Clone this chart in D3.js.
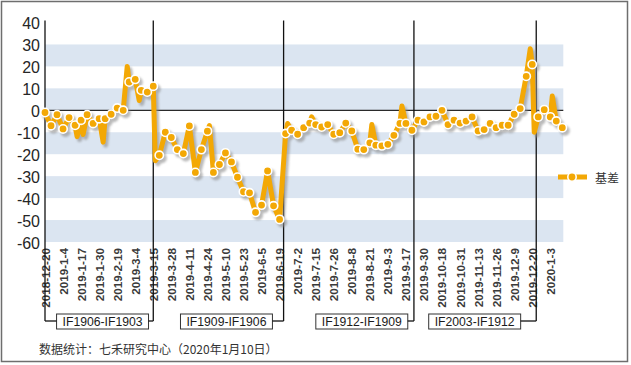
<!DOCTYPE html>
<html><head><meta charset="utf-8">
<script src="https://cdn.jsdelivr.net/npm/d3@7/dist/d3.min.js"></script>
<style>
html,body{margin:0;padding:0;background:#fff;}
svg{display:block;font-family:"Liberation Sans",Arial,sans-serif;}
</style></head>
<body><svg id="c" width="631" height="365"></svg>
<script>
// ---- data ----
const xLabels = ["2018-12-20","2019-1-4","2019-1-17","2019-1-30","2019-2-19","2019-3-4","2019-3-15",
  "2019-3-28","2019-4-11","2019-4-24","2019-5-10","2019-5-23","2019-6-5","2019-6-19","2019-7-2",
  "2019-7-15","2019-7-26","2019-8-8","2019-8-21","2019-9-3","2019-9-17","2019-9-30","2019-10-18",
  "2019-10-31","2019-11-13","2019-11-26","2019-12-9","2019-12-20","2020-1-3"];
const tickStep = 9;          // trading days between axis labels
const markerStep = 3;        // trading days between plotted (marked) observations
// basis values (every 3rd trading day, with markers)
const basisVals = [-1,-7,-2,-8.5,-3.3,-6.8,-4.5,-2,-6,-3.8,-3.8,-1.8,1,0,12.9,14.1,9.1,8.3,11,
  -20.5,-10,-12.4,-17.9,-19.7,-7.1,-28.3,-17.9,-9.5,-28.3,-24.7,-19.4,-23.5,-30.5,-37.1,-37.6,-46.5,-43.2,-27.6,-43.5,-49.7,
  -10.6,-9.1,-10.9,-7.9,-5.8,-6.5,-7.6,-6.5,-10.9,-10.2,-5.8,-9.4,-17.7,-17.9,-14.8,-15.9,-16.2,-15.5,-11.4,-6,-6,-9.1,
  -4.5,-5.3,-3,-2.7,0,-6.5,-4.5,-5.8,-4.9,-3,-9.4,-8.8,-6,-7.9,-6.8,-6.8,-1.8,0.8,15.5,20.9,-3,0.3,-3,-4.9,-7.9];
// intermediate daily extremes (line only)
const spikeDays = [16,19,29,41,47,55,82,121,133,163,178,242,244,253];
const spikeVals = [-12,-11,-14.5,20,4.5,-23,-7,-6,-3,-6.5,2,28,-10,6.5];
// contract roll days and labels
const rollDays = [0,54,119,184,245];
const contracts = ["IF1906-IF1903","IF1909-IF1906","IF1912-IF1909","IF2003-IF1912"];
const contractCenterDays = [28.7,90.5,158,214.3];
const yTicks = [40,30,20,10,0,-10,-20,-30,-40,-50,-60];
const seriesName = "基差";
const footer = "数据统计：七禾研究中心（2020年1月10日）";

// ---- build ----
const orange = "#f3a805";
const svg = d3.select("#c");
const x = d3.scaleLinear().domain([0,258]).range([45,562.3]);
const y = d3.scaleLinear().domain([-60,40]).range([242,22.5]);

const markers = basisVals.map((v,i)=>({d:i*markerStep,v,m:true}));
const spikes = spikeDays.map((d,i)=>({d,v:spikeVals[i],m:false}));
const pts = markers.concat(spikes).sort((a,b)=>a.d-b.d);

// frame
svg.append("rect").attr("x",1.5).attr("y",1.5).attr("width",626).attr("height",360)
  .attr("fill","#fff").attr("stroke","#6e6e6e").attr("stroke-width",1.5);

const defs = svg.append("defs");
defs.append("filter").attr("id","sh").attr("x","-10%").attr("y","-10%").attr("width","120%").attr("height","120%")
  .append("feGaussianBlur").attr("stdDeviation",1);

// bands
const bands = [[20,30],[0,10],[-20,-10],[-40,-30],[-60,-50]];
svg.append("g").selectAll("rect").data(bands).join("rect")
  .attr("x",x.range()[0]).attr("width",x.range()[1]-x.range()[0]+1)
  .attr("y",d=>y(d[1])).attr("height",d=>y(d[0])-y(d[1]))
  .attr("fill","#dbe5f1");

// zero line
svg.append("line").attr("x1",x.range()[0]).attr("x2",x.range()[1]+1)
  .attr("y1",y(0)).attr("y2",y(0)).attr("stroke","#2a2a2a").attr("stroke-width",1.2);

// y tick labels
svg.append("g").selectAll("text").data(yTicks).join("text")
  .attr("x",40).attr("y",d=>y(d)+1).attr("text-anchor","end").attr("dominant-baseline","central")
  .attr("font-size",16).attr("fill","#262626").text(d=>d);

// x tick labels
svg.append("g").selectAll("text").data(xLabels).join("text")
  .attr("transform",(d,i)=>`translate(${x(i*tickStep)},248) rotate(-90)`)
  .attr("text-anchor","end").attr("dominant-baseline","central")
  .attr("font-size",11.7).attr("font-weight","bold").attr("fill","#3a3a3a").text(d=>d);

// roll lines and contract boxes
const connY = 321;
svg.append("g").selectAll("line").data(rollDays).join("line")
  .attr("x1",d=>x(d)).attr("x2",d=>x(d)).attr("y1",y(40)-2).attr("y2",connY)
  .attr("stroke","#111").attr("stroke-width",1.3);

const boxG = svg.append("g");
contracts.forEach((c,i)=>{
  const cx = x(contractCenterDays[i]);
  const t = boxG.append("text").attr("x",cx).attr("y",connY+1).attr("text-anchor","middle")
    .attr("dominant-baseline","central").attr("font-size",12.2).attr("fill","#1a1a1a").text(c);
  const w = t.node().getComputedTextLength()+12;
  boxG.insert("rect","text").attr("x",cx-w/2).attr("y",314).attr("width",w).attr("height",15)
    .attr("fill","#fff").attr("stroke","#333").attr("stroke-width",1);
  boxG.append("line").attr("x1",cx+w/2).attr("x2",x(rollDays[i+1])).attr("y1",connY).attr("y2",connY)
    .attr("stroke","#111").attr("stroke-width",1.3);
  if(i===0){
    boxG.append("line").attr("x1",x(rollDays[0])).attr("x2",cx-w/2).attr("y1",connY).attr("y2",connY)
      .attr("stroke","#111").attr("stroke-width",1.3);
  }
});

// series
const line = d3.line().x(d=>x(d.d)).y(d=>y(d.v));
const shadow = svg.append("g").attr("transform","translate(2.5,3)").attr("filter","url(#sh)").attr("opacity",0.6);
shadow.append("path").datum(pts).attr("d",line).attr("fill","none").attr("stroke","#8c8c8c")
  .attr("stroke-width",5).attr("stroke-linejoin","round");
shadow.selectAll("circle").data(markers).join("circle")
  .attr("cx",d=>x(d.d)).attr("cy",d=>y(d.v)).attr("r",5).attr("fill","#8c8c8c");

svg.append("path").datum(pts).attr("d",line).attr("fill","none").attr("stroke",orange)
  .attr("stroke-width",5).attr("stroke-linejoin","round");
svg.append("g").selectAll("circle").data(markers).join("circle")
  .attr("cx",d=>x(d.d)).attr("cy",d=>y(d.v)).attr("r",4.2)
  .attr("fill",orange).attr("stroke","#fff").attr("stroke-width",1.6);

// legend
const lg = svg.append("g");
const ly = 177;
lg.append("line").attr("x1",560).attr("x2",589).attr("y1",ly+2.5).attr("y2",ly+2.5)
  .attr("stroke","#8c8c8c").attr("stroke-width",5).attr("opacity",0.55).attr("filter","url(#sh)");
lg.append("line").attr("x1",558).attr("x2",587).attr("y1",ly).attr("y2",ly)
  .attr("stroke",orange).attr("stroke-width",5);
lg.append("circle").attr("cx",572).attr("cy",ly).attr("r",4.2).attr("fill",orange)
  .attr("stroke","#fff").attr("stroke-width",1.6);
lg.append("text").attr("x",595).attr("y",ly).attr("dominant-baseline","central")
  .attr("font-size",12).attr("font-family","'Noto Sans CJK SC',sans-serif").attr("fill","#333").text(seriesName);

// footer
svg.append("text").attr("x",39).attr("y",348).attr("dominant-baseline","central")
  .attr("font-size",12).attr("font-family","'Noto Sans CJK SC',sans-serif").attr("fill","#333").text(footer);
</script></body></html>
